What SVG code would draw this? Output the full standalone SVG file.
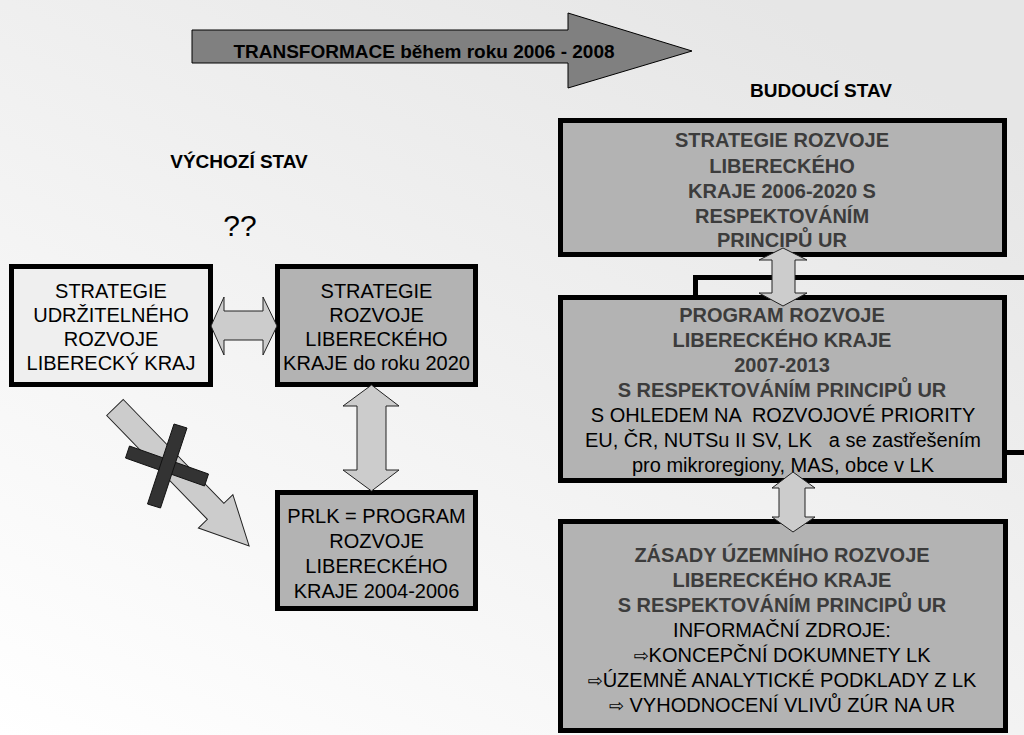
<svg xmlns="http://www.w3.org/2000/svg" width="1024" height="735" viewBox="0 0 1024 735">
<defs>
<linearGradient id="bg" x1="0" y1="1" x2="0.75" y2="0">
<stop offset="0" stop-color="#ffffff"/>
<stop offset="1" stop-color="#e6e6e6"/>
</linearGradient>
<style>
.box{stroke:#000;stroke-width:5}
.light{fill:#efefef}
.gray{fill:#b3b3b3}
.t{font-family:"Liberation Sans",Arial,sans-serif;font-size:20px;fill:#000;text-anchor:middle}
.b{font-weight:bold;fill:#3c3c3c}
.h{font-family:"Liberation Sans",Arial,sans-serif;font-size:19px;font-weight:bold;fill:#000;text-anchor:middle}
.dbl{fill:#cccccc;stroke:#222;stroke-width:1}
.sym{font-family:"DejaVu Sans",sans-serif;font-size:18px}
.pre{white-space:pre}
</style>
</defs>
<rect x="0" y="0" width="1024" height="735" fill="url(#bg)"/>

<g id="transform-arrow">
<polygon points="192,30 568,30 568,13 692,51 568,88 568,63 192,63" fill="#808080" stroke="#000" stroke-width="1"/>
<text class="h" x="424" y="58">TRANSFORMACE během roku 2006 - 2008</text>
</g>

<g id="label-budouci"><text class="h" x="821" y="97">BUDOUCÍ STAV</text></g>
<g id="label-vychozi"><text class="h" x="239" y="168">VÝCHOZÍ STAV</text></g>
<g id="label-qq"><text class="t" x="240" y="236" style="font-size:30px">??</text></g>

<g id="frame-behind">
<path d="M695.5,295 V277.5 H1030 M1007,452.5 H1030" fill="none" stroke="#000" stroke-width="5"/>
</g>

<g id="box-sur">
<rect class="box light" x="11.5" y="266.5" width="199" height="118"/>
<text class="t" x="111" y="298">STRATEGIE</text>
<text class="t" x="111" y="322">UDRŽITELNÉHO</text>
<text class="t" x="111" y="346">ROZVOJE</text>
<text class="t" x="111" y="370">LIBERECKÝ KRAJ</text>
</g>

<g id="box-srlk2020">
<rect class="box gray" x="277.5" y="266.5" width="198" height="118"/>
<text class="t" x="376.5" y="298">STRATEGIE</text>
<text class="t" x="376.5" y="322">ROZVOJE</text>
<text class="t" x="376.5" y="346">LIBERECKÉHO</text>
<text class="t" x="376.5" y="370">KRAJE do roku 2020</text>
</g>

<g id="box-prlk">
<rect class="box gray" x="277.5" y="492.5" width="198" height="116"/>
<text class="t" x="376.5" y="523">PRLK = PROGRAM</text>
<text class="t" x="376.5" y="548">ROZVOJE</text>
<text class="t" x="376.5" y="573">LIBERECKÉHO</text>
<text class="t" x="376.5" y="598">KRAJE 2004-2006</text>
</g>

<g id="box-srlk-ur">
<rect class="box gray" x="560.5" y="120.5" width="444" height="134"/>
<text class="t b" x="782" y="147">STRATEGIE ROZVOJE</text>
<text class="t b" x="782" y="173">LIBERECKÉHO</text>
<text class="t b" x="782" y="198">KRAJE 2006-2020 S</text>
<text class="t b" x="782" y="223">RESPEKTOVÁNÍM</text>
<text class="t b" x="782" y="247">PRINCIPŮ UR</text>
</g>

<g id="box-prlk-2007">
<rect class="box gray" x="560.5" y="297.5" width="444" height="183"/>
<text class="t b" x="782" y="322">PROGRAM ROZVOJE</text>
<text class="t b" x="782" y="347">LIBERECKÉHO KRAJE</text>
<text class="t b" x="782" y="372">2007-2013</text>
<text class="t b" x="782" y="397">S RESPEKTOVÁNÍM PRINCIPŮ UR</text>
<text class="t pre" x="783" y="422">S OHLEDEM NA  ROZVOJOVÉ PRIORITY</text>
<text class="t pre" x="783" y="447">EU, ČR, NUTSu II SV, LK   a se zastřešením</text>
<text class="t" x="783" y="472">pro mikroregiony, MAS, obce v LK</text>
</g>

<g id="box-zur">
<rect class="box gray" x="560.5" y="521.5" width="445" height="209"/>
<text class="t b" x="782" y="562">ZÁSADY ÚZEMNÍHO ROZVOJE</text>
<text class="t b" x="782" y="587">LIBERECKÉHO KRAJE</text>
<text class="t b" x="782" y="612">S RESPEKTOVÁNÍM PRINCIPŮ UR</text>
<text class="t" x="782" y="637">INFORMAČNÍ ZDROJE:</text>
<text class="t" x="782" y="662"><tspan class="sym">⇨</tspan>KONCEPČNÍ DOKUMNETY LK</text>
<text class="t" x="782" y="687"><tspan class="sym">⇨</tspan>ÚZEMNĚ ANALYTICKÉ PODKLADY Z LK</text>
<text class="t" x="782" y="712"><tspan class="sym">⇨</tspan> VYHODNOCENÍ VLIVŮ ZÚR NA UR</text>
</g>

<g id="connectors">
<polygon class="dbl" points="211,326 224,297 224,311 263,311 263,297 277,326 263,355 263,340 224,340 224,355"/>
<polygon class="dbl" points="371.5,385 399,406 386,406 386,470 399,470 371.5,491 343,470 357,470 357,406 343,406"/>
<polygon class="dbl" points="0,-11.5 144.6,-11.5 144.6,-24 192.7,0 144.6,24 144.6,11.5 0,11.5" transform="translate(115,407.5) rotate(45.9)"/>
<g fill="#333" stroke="#111" stroke-width="1">
<polygon points="129.5,446 208.5,474 204.5,486 125.5,458"/>
<polygon points="174,424 187,428 160.5,508 147.5,504"/>
</g>
<polygon class="dbl" points="783,248 807,260 795,260 795,293 807,293 783,306 759,293 772,293 772,260 759,260"/>
<polygon class="dbl" points="793,472 815,488 805,488 805,517 815,517 793,532 772,517 779,517 779,488 772,488"/>
</g>
</svg>
